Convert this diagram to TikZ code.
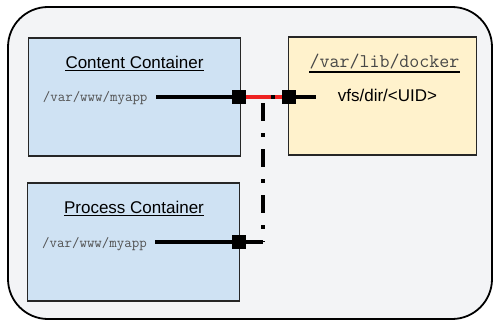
\documentclass[tikz,border=0pt]{standalone}
\usepackage{fontspec}
\setmainfont{Liberation Sans}
\definecolor{panel}{HTML}{F3F4F6}
\definecolor{ctblue}{HTML}{CFE2F3}
\definecolor{hostyellow}{HTML}{FFF2CC}
\definecolor{linkred}{HTML}{EE2222}
\begin{document}
\begin{tikzpicture}[x=1pt,y=-1pt,
  box/.style={draw=black!85, line width=1.6pt, inner sep=0, minimum width=212pt, minimum height=118pt},
  port/.style={fill=black, minimum size=14pt, inner sep=0, draw=none},
  wire/.style={line width=3.5pt},
  heading/.style={font=\fontsize{17}{20}\selectfont, inner sep=0, anchor=base},
  monohead/.style={font=\ttfamily\fontsize{19.4}{22}\selectfont, text=black!72, inner sep=0, anchor=base},
  mountpath/.style={font=\ttfamily\fontsize{14.5}{17}\selectfont, text=black!68, inner sep=0, anchor=base west},
]
\useasboundingbox (0,0) rectangle (494,321);
% host panel
\draw[line width=1.8pt, fill=panel, rounded corners=40pt] (8,7) rectangle (492,319);

% containers and host directory
\node[box, fill=ctblue] (content) at (134.3,97.2) {};
\node[box, fill=ctblue] (process) at (133.5,242.2) {};
\node[box, fill=hostyellow, minimum width=188pt] (docker) at (382.3,96.2) {};

% headings (underlined)
\node[heading] (contentT) at (134.5,68) {Content Container};
\draw[line width=1.1pt] ([yshift=-2.3pt]contentT.base west) -- ([yshift=-2.3pt]contentT.base east);
\node[heading] (processT) at (134,213) {Process Container};
\draw[line width=1.1pt] ([yshift=-2.3pt]processT.base west) -- ([yshift=-2.3pt]processT.base east);
\node[monohead] (dockerT) at (384.5,67) {/var/lib/docker};
\draw[line width=1.8pt] ([yshift=-5pt]dockerT.base west) -- ([yshift=-5pt]dockerT.base east);

% mount paths
\node[mountpath] (cpath) at (42.7,101.7) {/var/www/myapp};
\node[mountpath] (ppath) at (42,247) {/var/www/myapp};
\node[heading, anchor=base west] (uid) at (337.7,101.7) {vfs/dir/<UID>};

% wire end points
\coordinate (cstart) at (156,97);
\coordinate (pstart) at (155,242);
\coordinate (dend) at (315.5,97);
\coordinate (vtop) at (263,103);
\coordinate (vbot) at (263,242);
\coordinate (tickA) at (271,97);
\coordinate (tickB) at (275,97);

% wires
\draw[wire] (cstart) -- (239,97);
\draw[wire] (pstart) -- (vbot);
\draw[wire] (289,97) -- (dend);
\draw[wire, linkred] (239,97) -- (289,97);
\draw[wire] (tickA) -- (tickB);
\draw[line width=4pt, dash pattern=on 18pt off 12pt on 4pt off 12pt] (vtop) -- (vbot);

% ports
\node[port] (cport) at (239,97) {};
\node[port] (pport) at (238.5,242) {};
\node[port] (dport) at (289,97) {};
\end{tikzpicture}
\end{document}
